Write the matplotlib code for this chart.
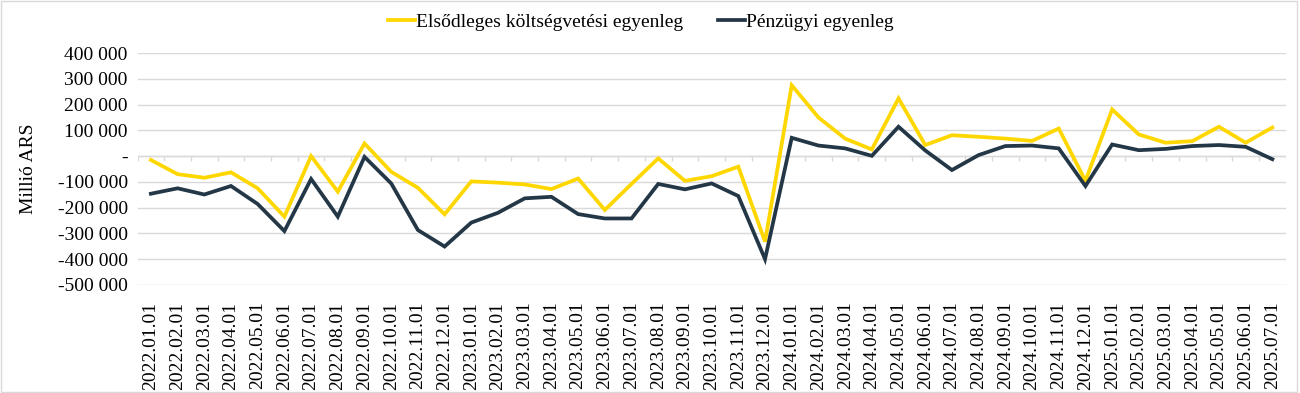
import numpy as np
import matplotlib.pyplot as plt
from matplotlib.patches import Rectangle
from matplotlib.ticker import FuncFormatter

plt.rcParams['font.family'] = ['Liberation Serif', 'DejaVu Serif']

# monthly dates 2022.01 - 2025.07
months = [f"{y}.{m:02d}.01" for y in range(2022, 2026) for m in range(1, 13)][:43]

# Elsődleges költségvetési egyenleg (millió ARS)
primary = [-15000, -70000, -84000, -63000, -125000, -235000, 0, -138000, 49000,
           -61000, -123000, -226000, -98000, -103000, -110000, -128000, -87000,
           -209000, -108000, -9000, -96000, -78000, -41000, -332000, 275000,
           150000, 68000, 26000, 224000, 43000, 81000, 75000, 68000, 59000,
           107000, -96000, 181000, 84000, 52000, 58000, 114000, 52000, 111000]

# Pénzügyi egyenleg (millió ARS)
financial = [-146000, -125000, -149000, -116000, -186000, -291000, -89000,
             -235000, -3000, -106000, -287000, -351000, -258000, -220000,
             -164000, -158000, -225000, -242000, -242000, -108000, -129000,
             -106000, -155000, -400000, 71000, 41000, 30000, 1000, 114000,
             22000, -54000, 4000, 39000, 41000, 30000, -116000, 45000, 23000,
             28000, 39000, 43000, 36000, -12000]

yellow = '#FFD700'
navy = '#243746'
grid = '#d9d9d9'

fig = plt.figure(figsize=(13, 3.93), dpi=100)
ax = fig.add_axes([0.1058, 0.275, 0.8832, 0.59])

x = np.arange(len(months))
ax.plot(x, primary, color=yellow, lw=2.7, label='Elsődleges költségvetési egyenleg',
        solid_joinstyle='miter')
ax.plot(x, financial, color=navy, lw=2.7, label='Pénzügyi egyenleg',
        solid_joinstyle='miter')

ax.set_xlim(-0.5, len(months) - 0.5)
ax.set_ylim(-500000, 400000)
ax.set_yticks(np.arange(-500000, 400001, 100000))


def fmt(v, pos):
    if v == 0:
        return '-'
    return f"{int(v):,}".replace(',', ' ')


ax.yaxis.set_major_formatter(FuncFormatter(fmt))
ax.grid(axis='y', color=grid, lw=1)
ax.set_axisbelow(True)
for s in ax.spines.values():
    s.set_visible(False)

# zero line with category tick marks
ax.axhline(0, color=grid, lw=1, zorder=1)
ax.vlines(np.arange(len(months) + 1) - 0.5, 0, -18000, color=grid, lw=1, zorder=1)

ax.set_xticks(x)
ax.set_xticklabels(months, rotation=90)
ax.tick_params(axis='both', length=0, labelsize=14, colors='black')
ax.tick_params(axis='x', pad=12)
ax.tick_params(axis='y', pad=7)
ax.set_ylabel('Millió ARS', fontsize=14, labelpad=15)

fig.legend(loc='upper center', bbox_to_anchor=(0.493, 1.01), ncol=2, frameon=False,
           fontsize=14, handlelength=1.4, handletextpad=0.05, columnspacing=1.8)

fig.patches.append(Rectangle((0.001, 0.002), 0.997, 0.995, transform=fig.transFigure,
                             fill=False, edgecolor=grid, lw=1))

fig.savefig('out.png', dpi=100)
